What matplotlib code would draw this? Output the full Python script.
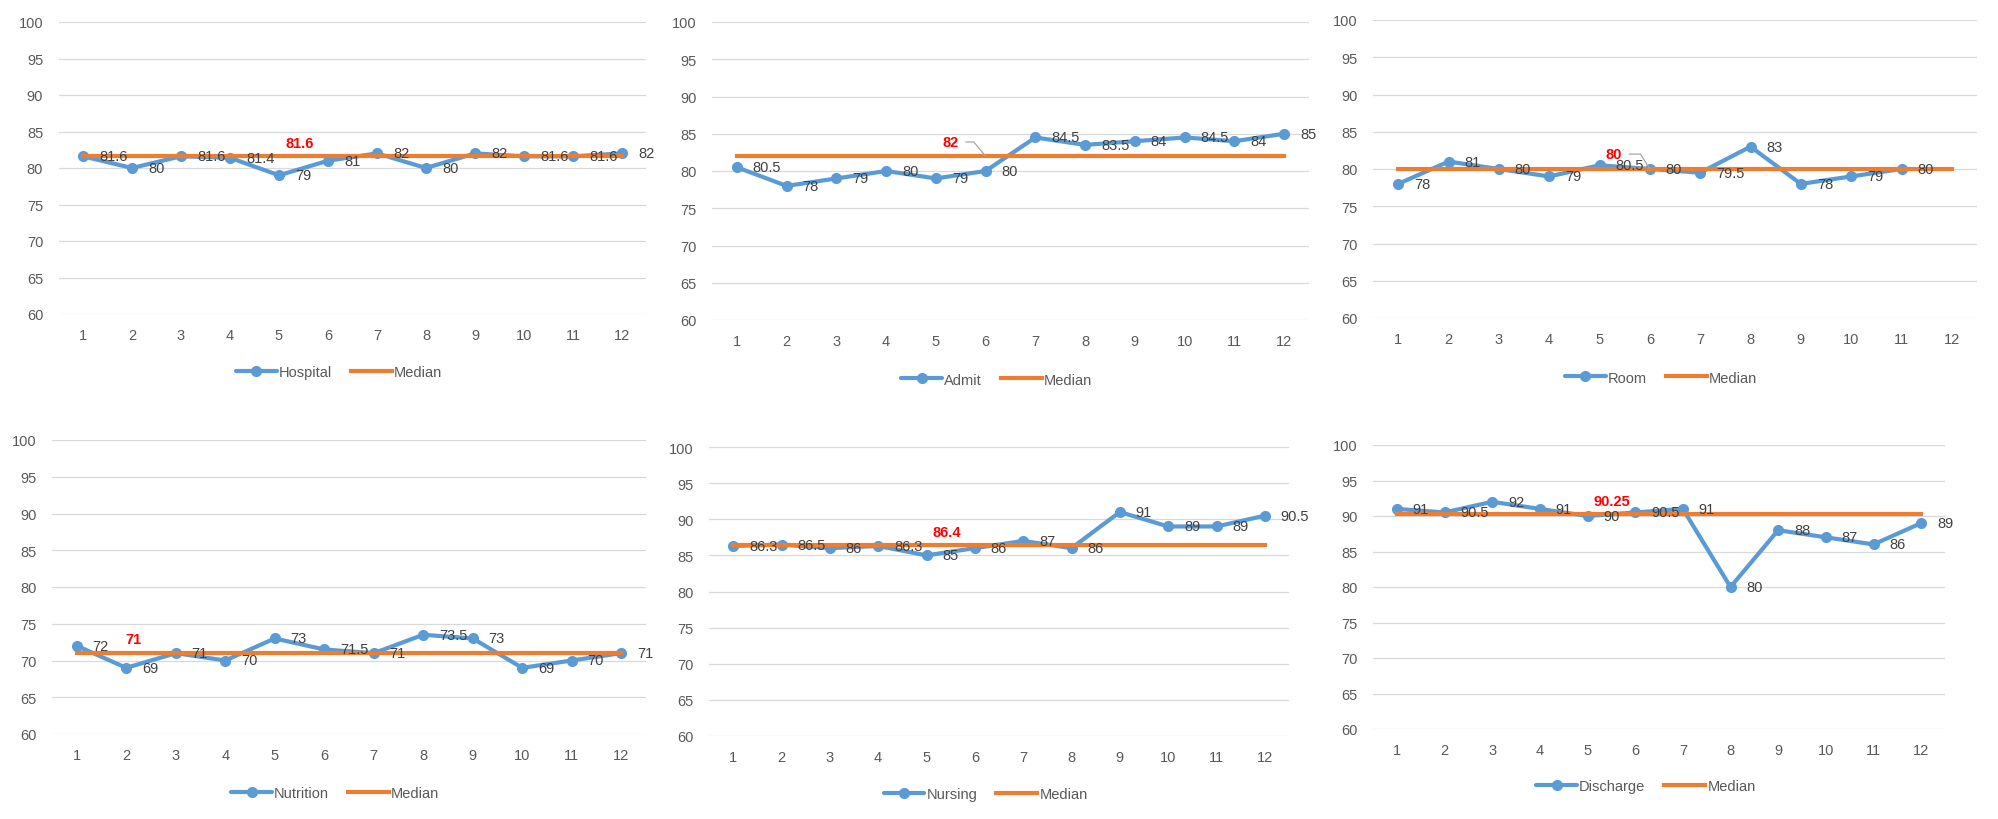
import numpy as np
import matplotlib

matplotlib.use("Agg")

import matplotlib.pyplot as plt

plt.rcParams["font.family"] = ["Liberation Sans", "DejaVu Sans"]

# --- data ---
months = list(range(1, 13))

hospital = [81.6, 80, 81.6, 81.4, 79, 81, 82, 80, 82, 81.6, 81.6, 82]
admit = [80.5, 78, 79, 80, 79, 80, 84.5, 83.5, 84, 84.5, 84, 85]
room = [78, 81, 80, 79, 80.5, 80, 79.5, 83, 78, 79, 80, np.nan]
nutrition = [72, 69, 71, 70, 73, 71.5, 71, 73.5, 73, 69, 70, 71]
nursing = [86.3, 86.5, 86, 86.3, 85, 86, 87, 86, 91, 89, 89, 90.5]
discharge = [91, 90.5, 92, 91, 90, 90.5, 91, 80, 88, 87, 86, 89]

series_names = ["Hospital", "Admit", "Room", "Nutrition", "Nursing", "Discharge"]
series_values = [hospital, admit, room, nutrition, nursing, discharge]
medians = [81.6, 82, 80, 71, 86.4, 90.25]
median_labels = ["81.6", "82", "80", "71", "86.4", "90.25"]

y_ticks = [60, 65, 70, 75, 80, 85, 90, 95, 100]

# --- layout (pixel boxes of each plot area: left, top, right, bottom) ---
W, H = 1998, 820
boxes = [
    (58.5, 23, 646.5, 315),
    (712, 23, 1309, 321),
    (1373, 21, 1977, 319),
    (52, 441, 646, 735),
    (709, 448, 1289, 737),
    (1373, 446, 1945, 730),
]
# where the red median label sits (x in categories, y in value units)
median_label_pos = [(5.43, 83.4), (5.3, 83.9), (5.29, 82.0), (2.15, 72.9), (5.42, 88.2), (5.52, 92.1)]
# leader line to the 6th median point (None = no leader)
leader_angle = [None, 130, 122, None, None, None]

BLUE = "#5B9BD5"
ORANGE = "#ED7D31"
GRID = "#D9D9D9"
TICK = "#595959"
LABEL = "#404040"

fig = plt.figure(figsize=(W / 100, H / 100), dpi=100)
fig.patch.set_facecolor("white")

for i, (name, vals) in enumerate(zip(series_names, series_values)):
    l, t, r, b = boxes[i]
    ax = fig.add_axes([l / W, 1 - b / H, (r - l) / W, (b - t) / H])

    ax.plot(months, vals, color=BLUE, lw=3, marker="o", ms=7, label=name, zorder=3,
            solid_capstyle="round")
    ax.plot(months, [medians[i]] * len(months), color=ORANGE, lw=3, label="Median", zorder=4)

    for x, v in zip(months, vals):
        if np.isnan(v):
            continue
        ax.annotate(f"{v:g}", (x, v), xytext=(11.5, 0), textcoords="offset points",
                    ha="left", va="center", fontsize=10.5, color=LABEL, zorder=6)

    lx, ly = median_label_pos[i]
    if leader_angle[i] is None:
        ax.text(lx, ly, median_labels[i], ha="center", va="center", fontsize=10.5,
                color="#FF0000", fontweight="bold", zorder=6)
    else:
        ax.annotate(median_labels[i], xy=(months[5], medians[i]), xytext=(lx, ly),
                    ha="center", va="center", fontsize=10.5, color="#FF0000",
                    fontweight="bold", zorder=6,
                    arrowprops=dict(arrowstyle="-", color="#A6A6A6", lw=0.9,
                                    shrinkA=3, shrinkB=0,
                                    connectionstyle=f"angle,angleA=0,angleB={leader_angle[i]},rad=0"))

    ax.set_xlim(0.5, 12.5)
    ax.set_ylim(60, 100)
    ax.set_xticks(months)
    ax.set_yticks(y_ticks)
    ax.grid(axis="y", color=GRID, lw=0.9)
    ax.set_axisbelow(True)
    for s in ax.spines.values():
        s.set_visible(False)
    ax.tick_params(axis="both", length=0, labelsize=10.5, labelcolor=TICK)
    ax.tick_params(axis="y", pad=11)
    ax.tick_params(axis="x", pad=10)

    leg = ax.legend(loc="center", bbox_to_anchor=(0.477, -0.2), ncol=2, frameon=False,
                    fontsize=10.5, handlelength=2.8, handletextpad=0.15, columnspacing=1.3,
                    labelcolor=TICK)

fig.savefig("out.png", dpi=100, facecolor="white")
plt.close(fig)
